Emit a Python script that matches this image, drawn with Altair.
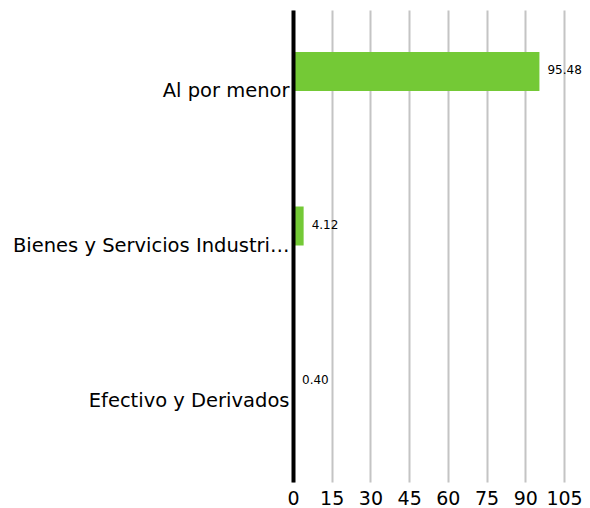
import altair as alt
import pandas as pd

categories = ["Al por menor", "Bienes y Servicios Industriales", "Efectivo y Derivados"]
values = [95.48, 4.12, 0.40]
x_ticks = [0, 15, 30, 45, 60, 75, 90, 105]

df = pd.DataFrame({"cat": categories, "val": values})

FONT = "DejaVu Sans"

y_enc = alt.Y(
    "cat:N",
    sort=categories,
    scale=alt.Scale(paddingInner=0, paddingOuter=0.0275),
    axis=alt.Axis(
        title=None,
        domain=True,
        domainColor="#000000",
        domainWidth=4,
        ticks=False,
        labelFontSize=19.5,
        labelFont=FONT,
        labelColor="#000000",
        labelPadding=4,
        labelLimit=284,
        grid=False,
        zindex=1,
    ),
)

x_enc = alt.X(
    "val:Q",
    scale=alt.Scale(domain=[0, 105], nice=False),
    axis=alt.Axis(
        title=None,
        values=x_ticks,
        domain=False,
        ticks=False,
        grid=True,
        gridColor="#c4c4c4",
        gridWidth=2,
        labelFontSize=19,
        labelFont=FONT,
        labelColor="#000000",
        labelPadding=7,
        labelFlush=False,
        labelOverlap=False,
    ),
)

bars = alt.Chart(df).mark_bar(height=39, yOffset=-20, color="#74c936").encode(
    x=x_enc, y=y_enc
)

text = alt.Chart(df).mark_text(
    align="left", baseline="middle", dx=8, yOffset=-21, fontSize=12, font=FONT, color="#000000"
).encode(
    x=x_enc,
    y=y_enc,
    text=alt.Text("val:Q", format=".2f"),
)

chart = (
    alt.layer(bars, text)
    .properties(
        width=271,
        height=472,
        autosize=alt.AutoSizeParams(type="none"),
        padding={"left": 285, "top": 2, "right": 18, "bottom": 26},
    )
    .configure_view(stroke=None)
)

chart.save("out.html", embed_options={"renderer": "svg", "actions": False})
